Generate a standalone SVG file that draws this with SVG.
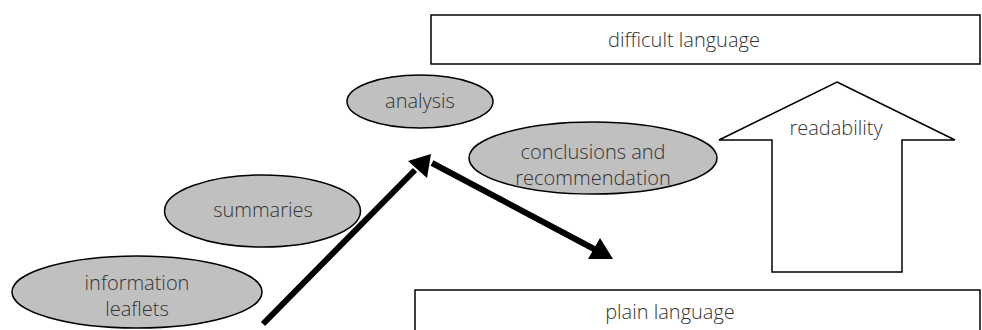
<svg xmlns="http://www.w3.org/2000/svg" width="982" height="330" viewBox="0 0 982 330">
<defs>
<style>
.box{fill:#fff;stroke:#000;stroke-width:1.5}
.ell{fill:#c0c0c0;stroke:#000;stroke-width:1.5}
.t{font-family:"Open Sans","Noto Sans",sans-serif;font-size:20px;font-weight:300;fill:#333;text-anchor:middle}
.arr{stroke:#000;stroke-width:6;fill:none}
</style>
</defs>
<rect width="982" height="330" fill="#fff"/>
<g id="difficult">
<rect class="box" x="431" y="15" width="549" height="49"/>
<text class="t" x="684" y="47">difficult language</text>
</g>
<g id="plain">
<rect class="box" x="415" y="290" width="565" height="60"/>
<text class="t" x="670" y="319">plain language</text>
</g>
<g id="readability">
<path class="box" d="M837,82 L955,140 L902,140 L902,272 L772,272 L772,140 L719,140 Z"/>
<text class="t" x="836" y="135">readability</text>
</g>
<g id="information">
<ellipse class="ell" cx="137" cy="292" rx="125" ry="36"/>
<text class="t" x="137" y="290">information</text>
<text class="t" x="137" y="316">leaflets</text>
</g>
<g id="summaries">
<ellipse class="ell" cx="262.5" cy="211" rx="98" ry="36"/>
<text class="t" x="263" y="217">summaries</text>
</g>
<g id="analysis">
<ellipse class="ell" cx="420" cy="101.5" rx="73" ry="26.5"/>
<text class="t" x="420" y="108">analysis</text>
</g>
<g id="conclusions">
<ellipse class="ell" cx="593" cy="158" rx="124" ry="36"/>
<text class="t" x="593" y="159">conclusions and</text>
<text class="t" x="593" y="185">recommendation</text>
</g>
<g id="connectors">
<line class="arr" x1="263" y1="324" x2="415" y2="170"/>
<polygon points="431,154 408,161 427,178" fill="#000"/>
<line class="arr" x1="432" y1="163" x2="596" y2="250"/>
<polygon points="613,259 588,259 600,238" fill="#000"/>
</g>
</svg>
